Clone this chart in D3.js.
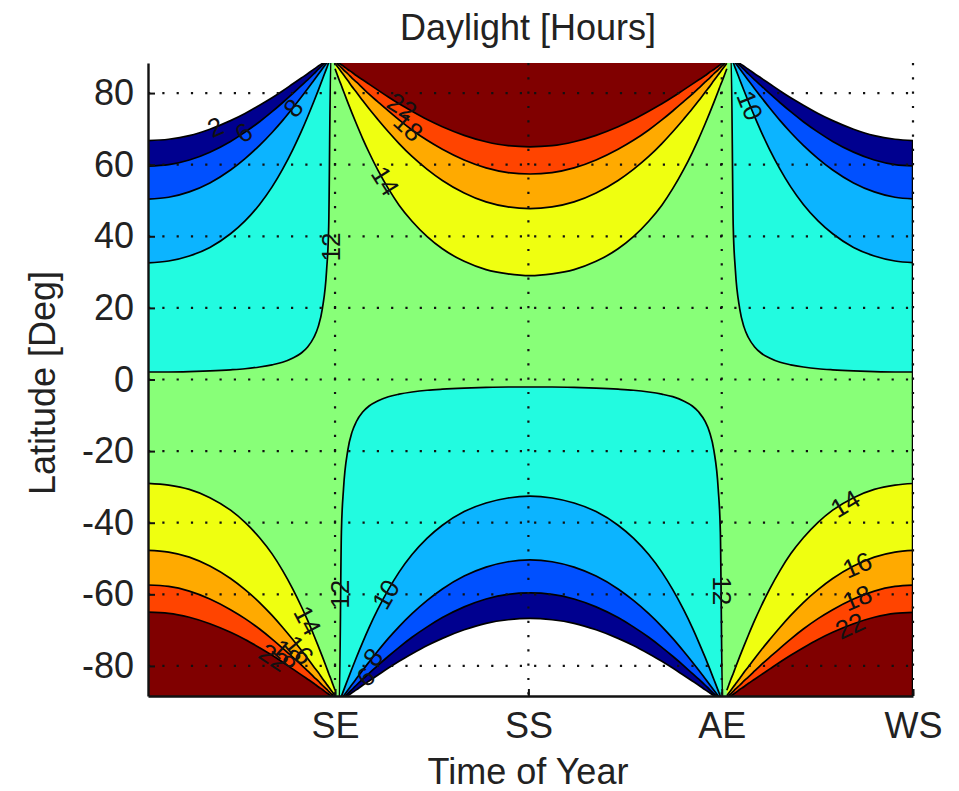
<!DOCTYPE html>
<html><head><meta charset="utf-8">
<script src="https://cdn.jsdelivr.net/npm/d3@7"></script>
<style>
body{margin:0;background:#fff;}
svg{display:block;}
text{font-family:"Liberation Sans",Arial,Helvetica,sans-serif;fill:#222;}
</style></head><body>
<svg id="chart" width="959" height="791"></svg>
<script>
// ---- DATA -------------------------------------------------------------
// Day of year of the sample points, one array per quarter of the year
// (k-th entry of every array belongs to the same sample on the contour)
const daysAfterSE  = [80.00,81.01,82.02,83.02,84.03,86.05,88.07,90.10,93.14,96.19,100.26,105.36,110.47,116.63,123.84,131.07,141.44,151.85,162.30,172.77];
const daysBeforeAE = [266.41,265.38,264.36,263.34,262.31,260.26,258.21,256.16,253.07,249.98,245.85,240.68,235.50,229.26,221.97,214.67,204.21,193.73,183.25,172.77];
const daysAfterAE  = [266.41,267.43,268.45,269.47,270.49,272.53,274.57,276.60,279.65,282.69,286.73,291.78,296.81,302.83,309.82,316.79,326.71,336.59,346.44,356.26];
const daysBeforeSE = [80.00,78.99,77.99,76.98,75.98,73.97,71.96,69.96,66.96,63.96,59.97,55.00,50.04,44.09,37.18,30.28,20.45,10.64,0.83,-8.98];

// Latitude (deg, winter hemisphere) of the contours below 12 h
const lat12 = [90,90,90,42.6,30.5,19.8,14.7,11.8,9.1,7.4,6.0,4.8,4.1,3.5,3.0,2.7,2.4,2.2,2.1,2.1];
const lat10 = [90,90,90,88.5,86.9,83.8,80.7,77.7,73.4,69.3,64.3,58.7,53.8,48.9,44.3,40.7,36.9,34.5,33.1,32.6];
const lat8  = [90,90,90,89.2,88.4,86.8,85.2,83.6,81.2,78.9,75.9,72.3,69.0,65.4,61.7,58.5,54.9,52.4,50.9,50.4];
const lat6  = [90,90,90,89.4,88.9,87.7,86.6,85.4,83.7,82.1,79.9,77.3,74.8,72.0,69.1,66.5,63.5,61.3,60.0,59.6];
const lat2  = [90,90,90,90,89.2,88.3,87.5,86.7,85.4,84.2,82.6,80.6,78.7,76.6,74.3,72.3,69.9,68.1,67.1,66.7];
// Latitude (deg, summer hemisphere) of the contours above 12 h
const lat14 = [86.8,85.2,83.6,82.1,80.5,77.4,74.4,71.5,67.3,63.4,58.6,53.3,48.7,44.2,39.9,36.5,33.0,30.7,29.5,29.0];
const lat16 = [88.3,87.5,86.7,85.9,85.1,83.5,81.8,80.3,77.9,75.6,72.7,69.2,65.9,62.3,58.7,55.6,52.1,49.6,48.2,47.7];
const lat18 = [90,88.3,87.7,87.1,86.5,85.4,84.2,83.1,81.4,79.7,77.6,75.0,72.5,69.7,66.8,64.3,61.3,59.1,57.8,57.4];
const lat22 = [90,88.7,88.3,87.9,87.5,86.6,85.8,84.9,83.7,82.5,80.9,78.9,77.0,74.9,72.6,70.6,68.2,66.4,65.3,65.0];

const xTickDays   = [80,172,264,355];
const xTickLabels = ["SE","SS","AE","WS"];
const yTicks      = [-80,-60,-40,-20,0,20,40,60,80];

// inline contour labels: [text, day, latitude]
const labelText = ["2","6","8","12","22","18","14","10","12","10","8","6","12","14","16","18","22","14","16","18","22"];
const labelDay  = [23,36.5,60,77.9,112,115,104,277.5,82.3,104,98,94.5,264.2,322.7,328.4,328.4,325,67,63,57,51];
const labelLat  = [70.6,69.0,75.9,37,76.3,70.6,55.5,76.5,-60,-60,-77.5,-83,-59,-34.6,-51.7,-60.9,-68.7,-67.3,-75.5,-76.5,-77.6];
const labelRot  = [-23,-34,-51,-90,32,42,58,68,-90,-60,-51,-40,90,-31,-23,-23,-25,62,50,42,34];

// ---- CHART ------------------------------------------------------------
const plot = {left:148, right:913, top:63, bottom:696};
const FONT = 36;
const x = d3.scaleLinear().domain([-9,355]).range([plot.left, plot.right]);
const y = d3.scaleLinear().domain([-88.4,88.4]).range([plot.bottom, plot.top]);
const svg = d3.select("#chart");

svg.append("defs").append("clipPath").attr("id","clip").append("rect")
  .attr("x",plot.left).attr("y",plot.top)
  .attr("width",plot.right-plot.left).attr("height",plot.bottom-plot.top);

const g = svg.append("g").attr("clip-path","url(#clip)");
const line = d3.line().x(d=>x(d[0])).y(d=>y(d[1])).curve(d3.curveMonotoneX);

function seg(days, lats, sign){ return days.map((d,i)=>[d, sign*lats[i]]); }
function midYear(lats, sign){
  return seg(daysAfterSE, lats, sign).concat(seg(daysBeforeAE, lats, sign).slice(0,-1).reverse());
}
function earlyYear(lats, sign){ return seg(daysBeforeSE, lats, sign).reverse(); }
function lateYear(lats, sign){ return seg(daysAfterAE, lats, sign); }
function regionPath(pts, edge){
  const a = pts[0], b = pts[pts.length-1];
  return line(pts) + `L${x(b[0])},${y(edge)}L${x(a[0])},${y(edge)}Z`;
}

// base band 12-14 h
const baseColor = "#88ff78";
g.append("rect").attr("x",plot.left).attr("y",plot.top)
  .attr("width",plot.right-plot.left).attr("height",plot.bottom-plot.top)
  .attr("fill",baseColor);

const lowLevels = [
  {lats:lat12, color:"#22fbe0"},
  {lats:lat10, color:"#0cb4ff"},
  {lats:lat8,  color:"#0050ff"},
  {lats:lat6,  color:"#00008f"},
  {lats:lat2,  color:"#ffffff"}
];
const highLevels = [
  {lats:lat14, color:"#efff10"},
  {lats:lat16, color:"#ffaa00"},
  {lats:lat18, color:"#ff4400"},
  {lats:lat22, color:"#800000"}
];

const allCurves = [];
lowLevels.forEach(L=>{
  const pieces = [
    {pts:earlyYear(L.lats, 1), edge:95},
    {pts:lateYear(L.lats, 1),  edge:95},
    {pts:midYear(L.lats, -1),  edge:-95}
  ];
  pieces.forEach(p=>{
    g.append("path").attr("d",regionPath(p.pts,p.edge)).attr("fill",L.color).attr("stroke","none");
    allCurves.push(p.pts);
  });
});
highLevels.forEach(L=>{
  const pieces = [
    {pts:midYear(L.lats, 1),     edge:95},
    {pts:earlyYear(L.lats, -1),  edge:-95},
    {pts:lateYear(L.lats, -1),   edge:-95}
  ];
  pieces.forEach(p=>{
    g.append("path").attr("d",regionPath(p.pts,p.edge)).attr("fill",L.color).attr("stroke","none");
    allCurves.push(p.pts);
  });
});

// contour lines
allCurves.forEach(pts=>{
  g.append("path").attr("d",line(pts)).attr("fill","none")
   .attr("stroke","#000").attr("stroke-width",1.7);
});
// patch edge along the right data border
g.append("line")
  .attr("x1",x(355)).attr("x2",x(355))
  .attr("y1",y(-88.4)).attr("y2",y(lat2[lat2.length-1]))
  .attr("stroke","#000").attr("stroke-width",2.5);

// dotted grid
const grid = svg.append("g");
yTicks.forEach(v=>{
  grid.append("line").attr("x1",plot.left).attr("x2",plot.right)
    .attr("y1",y(v)).attr("y2",y(v))
    .attr("stroke","#111").attr("stroke-width",2.2).attr("stroke-dasharray","2.2,12.1");
});
xTickDays.forEach(v=>{
  grid.append("line").attr("x1",x(v)).attr("x2",x(v))
    .attr("y1",plot.top).attr("y2",plot.bottom)
    .attr("stroke","#111").attr("stroke-width",2.2).attr("stroke-dasharray","2.2,12.1");
});

// contour labels
const lab = svg.append("g").attr("clip-path","url(#clip)");
labelText.forEach((t,i)=>{
  lab.append("text")
    .attr("transform",`translate(${x(labelDay[i])},${y(labelLat[i])}) rotate(${labelRot[i]})`)
    .attr("text-anchor","middle").attr("dy","0.36em")
    .style("font-size","26px").style("fill","#111").text(t);
});

// axes
const yAxis = d3.axisLeft(y).tickValues(yTicks).tickFormat(d=>String(d))
  .tickSizeInner(-7).tickSizeOuter(0).tickPadding(14);
const xAxis = d3.axisBottom(x).tickValues(xTickDays).tickFormat((d,i)=>xTickLabels[i])
  .tickSizeInner(-7).tickSizeOuter(0).tickPadding(16);

const ya = svg.append("g").attr("transform",`translate(${plot.left},0)`).call(yAxis);
const xa = svg.append("g").attr("transform",`translate(0,${plot.bottom})`).call(xAxis);
[ya,xa].forEach(a=>{
  a.attr("font-family",null).attr("font-size",null);
  a.selectAll("path.domain").attr("stroke","#111").attr("stroke-width",2.4);
  a.selectAll(".tick line").attr("stroke","#111").attr("stroke-width",2);
  a.selectAll(".tick text").style("font-size",FONT+"px").style("fill","#222");
});

// titles
svg.append("text").attr("x",528).attr("y",40).attr("text-anchor","middle")
  .style("font-size",FONT+"px").text("Daylight [Hours]");
svg.append("text").attr("x",528).attr("y",784).attr("text-anchor","middle")
  .style("font-size",FONT+"px").text("Time of Year");
svg.append("text").attr("transform","translate(55,383) rotate(-90)").attr("text-anchor","middle")
  .style("font-size",FONT+"px").text("Latitude [Deg]");
</script>
</body></html>
